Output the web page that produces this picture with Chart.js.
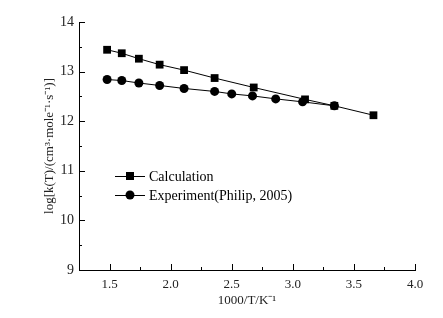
<!DOCTYPE html>
<html>
<head>
<meta charset="utf-8">
<script src="https://cdn.jsdelivr.net/npm/chart.js@4.4.0/dist/chart.umd.min.js"></script>
<style>
  html, body { margin: 0; padding: 0; background: #fff; }
  #wrap { width: 443px; height: 318px; }
</style>
</head>
<body>
<div id="wrap"><canvas id="chart"></canvas></div>
<script>
// Data
const calcX = [1.48, 1.60, 1.74, 1.91, 2.11, 2.36, 2.68, 3.10, 3.34, 3.66]
const calcY = [13.44, 13.37, 13.26, 13.14, 13.03, 12.87, 12.68, 12.44, 12.31, 12.12]
const expX = [1.48, 1.60, 1.74, 1.91, 2.11, 2.36, 2.50, 2.67, 2.86, 3.08, 3.34]
const expY = [12.84, 12.82, 12.77, 12.72, 12.66, 12.60, 12.55, 12.51, 12.45, 12.39, 12.31]

const xTicks = [1.5, 2.0, 2.5, 3.0, 3.5, 4.0]
const xMinor = [1.75, 2.25, 2.75, 3.25, 3.75]
const yTicks = [9, 10, 11, 12, 13, 14]
const yMinor = [9.5, 10.5, 11.5, 12.5, 13.5]

const FONT = "'Liberation Serif', 'Times New Roman', serif"

const toPoints = (xs, ys) => xs.map((x, i) => ({ x: x, y: ys[i] }))

// inward tick marks + in-plot legend
const decorPlugin = {
  id: "decor",
  afterDraw(chart) {
    const ctx = chart.ctx
    const xs = chart.scales.x
    const ys = chart.scales.y
    const area = chart.chartArea
    ctx.save()
    ctx.strokeStyle = "#000"
    ctx.lineWidth = 1
    ctx.beginPath()
    xTicks.forEach(v => {
      const px = Math.round(xs.getPixelForValue(v)) + 0.5
      ctx.moveTo(px, area.bottom); ctx.lineTo(px, area.bottom - 6)
    })
    xMinor.forEach(v => {
      const px = Math.round(xs.getPixelForValue(v)) + 0.5
      ctx.moveTo(px, area.bottom); ctx.lineTo(px, area.bottom - 3)
    })
    yTicks.forEach(v => {
      const py = Math.round(ys.getPixelForValue(v)) + 0.5
      ctx.moveTo(area.left, py); ctx.lineTo(area.left + 6, py)
    })
    yMinor.forEach(v => {
      const py = Math.round(ys.getPixelForValue(v)) + 0.5
      ctx.moveTo(area.left, py); ctx.lineTo(area.left + 3, py)
    })
    ctx.stroke()

    // legend
    const lx = area.left + 36
    let ly = area.top + 154
    chart.data.datasets.forEach(ds => {
      ctx.beginPath()
      ctx.moveTo(lx, ly + 0.5); ctx.lineTo(lx + 30, ly + 0.5)
      ctx.stroke()
      ctx.fillStyle = "#000"
      if (ds.pointStyle === "rect") {
        ctx.fillRect(lx + 11, ly - 4, 8, 8)
      } else {
        ctx.beginPath()
        ctx.arc(lx + 15, ly, 4.5, 0, Math.PI * 2)
        ctx.fill()
      }
      ctx.font = "14px " + FONT
      ctx.textBaseline = "middle"
      ctx.fillText(ds.label, lx + 34, ly + 1)
      ly += 19
    })
    ctx.restore()
  }
}

new Chart(document.getElementById("chart"), {
  type: "scatter",
  data: {
    datasets: [
      {
        label: "Calculation",
        data: toPoints(calcX, calcY),
        showLine: true,
        borderColor: "#000",
        borderWidth: 1,
        backgroundColor: "#000",
        pointStyle: "rect",
        pointRadius: 5.5,
        pointBorderWidth: 0,
      },
      {
        label: "Experiment(Philip, 2005)",
        data: toPoints(expX, expY),
        showLine: true,
        borderColor: "#000",
        borderWidth: 1,
        backgroundColor: "#000",
        pointStyle: "circle",
        pointRadius: 4.5,
        pointBorderWidth: 0,
      },
    ],
  },
  options: {
    responsive: true,
    maintainAspectRatio: false,
    animation: false,
    layout: { padding: { top: 22, right: 28, left: 0, bottom: 0 } },
    plugins: {
      legend: { display: false },
      tooltip: { enabled: false },
    },
    scales: {
      x: {
        type: "linear",
        min: 1.25,
        max: 4.0,
        afterBuildTicks: (scale) => { scale.ticks = xTicks.map(v => ({ value: v })) },
        afterFit: (scale) => { scale.height = 48 },
        grid: { display: false, drawTicks: false },
        border: { display: true, color: "#000", width: 1 },
        ticks: {
          color: "#222",
          padding: 7,
          maxRotation: 0,
          font: { family: FONT, size: 13 },
          callback: (v) => Number(v).toFixed(1),
        },
        title: {
          display: true,
          text: "1000/T/K⁻¹",
          color: "#222",
          font: { family: FONT, size: 13 },
          padding: { top: 0, bottom: 10 },
        },
      },
      y: {
        type: "linear",
        min: 9,
        max: 14,
        afterBuildTicks: (scale) => { scale.ticks = yTicks.map(v => ({ value: v })) },
        afterFit: (scale) => { scale.width = 79 },
        grid: { display: false, drawTicks: false },
        border: { display: true, color: "#000", width: 1 },
        ticks: {
          color: "#222",
          padding: 5,
          font: { family: FONT, size: 14 },
        },
        title: {
          display: true,
          text: "log[k(T)/(cm³·mole⁻¹·s⁻¹)]",
          color: "#222",
          font: { family: FONT, size: 13 },
          padding: { top: 42, bottom: 0 },
        },
      },
    },
  },
  plugins: [decorPlugin],
})
</script>
</body>
</html>
